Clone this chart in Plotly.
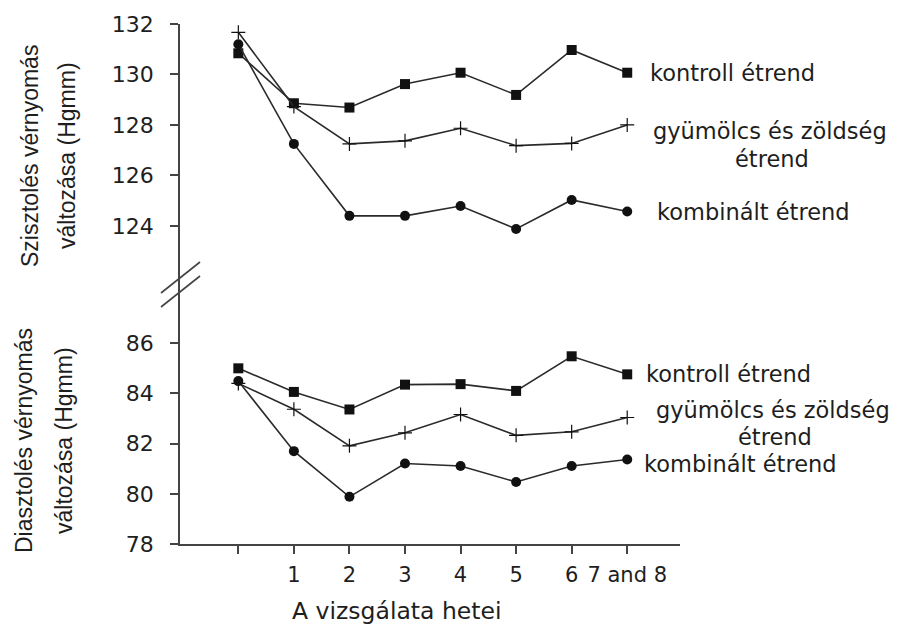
import plotly.graph_objects as go

# ---------------- data ----------------
weeks = [0, 1, 2, 3, 4, 5, 6, 7]
week_labels = ["", "1", "2", "3", "4", "5", "6", "7 and 8"]

sys_kontroll = [130.84, 128.86, 128.69, 129.62, 130.07, 129.19, 130.97, 130.07]
sys_gyumolcs = [131.67, 128.73, 127.25, 127.37, 127.87, 127.18, 127.27, 128.00]
sys_kombinalt = [131.20, 127.25, 124.40, 124.40, 124.79, 123.88, 125.03, 124.57]

dia_kontroll = [85.00, 84.06, 83.36, 84.35, 84.37, 84.10, 85.48, 84.76]
dia_gyumolcs = [84.40, 83.37, 81.91, 82.43, 83.16, 82.33, 82.47, 83.04]
dia_kombinalt = [84.49, 81.70, 79.88, 81.21, 81.11, 80.47, 81.11, 81.37]

sys_ticks = [124, 126, 128, 130, 132]
dia_ticks = [78, 80, 82, 84, 86]

# ---------------- layout helpers ----------------
W, H = 901, 624
L, R, T, B = 180, 221, 24, 80
PW, PH = W - L - R, H - T - B
FONT = "DejaVu Sans, Verdana, sans-serif"
FONT_T = "Liberation Sans, Arial, sans-serif"
LINE = "#2a2a2a"
AXC = "#444444"
TXT = "#1e1e1e"
AS = 22.5  # series label size


def px(xp):
    return (xp - L) / PW


def py(yp):
    return (H - B - yp) / PH


split = py(285)

fig = go.Figure()

series = [
    (sys_kontroll, "square", 10, "y"),
    (sys_gyumolcs, "cross-thin", 10, "y"),
    (sys_kombinalt, "circle", 10, "y"),
    (dia_kontroll, "square", 10, "y2"),
    (dia_gyumolcs, "cross-thin", 10, "y2"),
    (dia_kombinalt, "circle", 10, "y2"),
]
for vals, sym, sz, ya in series:
    fig.add_trace(go.Scatter(
        x=weeks, y=vals, xaxis="x", yaxis=ya, mode="lines+markers",
        line=dict(color=LINE, width=1.6),
        marker=dict(symbol=sym, size=sz, color="#111111",
                    line=dict(color="#111111", width=1.2 if sym == "cross-thin" else 0)),
        cliponaxis=False, showlegend=False, hoverinfo="skip",
    ))

common_y = dict(
    showline=True, linecolor=AXC, linewidth=1.6, ticks="outside", ticklen=8,
    tickwidth=1.6, tickcolor=AXC, showgrid=False, zeroline=False,
    tickfont=dict(family=FONT, size=22, color=TXT), ticklabelstandoff=12,
    anchor="x",
)

fig.update_layout(
    width=W, height=H,
    margin=dict(l=L, r=R, t=T, b=B, pad=0),
    paper_bgcolor="white", plot_bgcolor="white",
    xaxis=dict(
        domain=[0, 1], range=[-1.05, 7.95], anchor="y2",
        tickvals=weeks, ticktext=week_labels,
        showline=True, linecolor=AXC, linewidth=1.6,
        ticks="outside", ticklen=8, tickwidth=1.6, tickcolor=AXC,
        showgrid=False, zeroline=False,
        tickfont=dict(family=FONT, size=21, color=TXT), ticklabelstandoff=3,
    ),
    yaxis=dict(domain=[split, 1], range=[121.66, 132], tickvals=sys_ticks, **common_y),
    yaxis2=dict(domain=[0, split], range=[78, 88.32], tickvals=dia_ticks, **common_y),
)

# axis break marks
for (x0, y0, x1, y1) in [(161, 293, 200, 262), (161, 307, 200, 276)]:
    fig.add_shape(type="line", xref="paper", yref="paper",
                  x0=px(x0), y0=py(y0), x1=px(x1), y1=py(y1),
                  line=dict(color=AXC, width=1.6))


def label(text, xpix, ypix, xanchor="left", size=AS, angle=0, family=FONT):
    fig.add_annotation(text=text, xref="paper", yref="paper",
                       x=px(xpix), y=py(ypix), xanchor=xanchor, yanchor="middle",
                       showarrow=False, textangle=angle, align="center",
                       font=dict(family=family, size=size, color=TXT))


def series_label(text, xpix, baseline, xanchor="left"):
    # centre of the text box sits ~0.346 em above the baseline
    label(text, xpix, baseline - 0.346 * AS, xanchor)


# series labels – top panel
series_label("kontroll étrend", 648, 81)
series_label("gyümölcs és zöldség", 770, 139, "center")
series_label("étrend", 772, 166.5, "center")
series_label("kombinált étrend", 655, 220)
# series labels – bottom panel
series_label("kontroll étrend", 644, 382)
series_label("gyümölcs és zöldség", 773, 418, "center")
series_label("étrend", 775, 444.5, "center")
series_label("kombinált étrend", 642, 471.5)

# axis titles
label("Szisztolés vérnyomás", 30, 156, "center", 23, -90, FONT_T)
label("változása (Hgmm)", 67, 156, "center", 23, -90, FONT_T)
label("Diasztolés vérnyomás", 24, 441, "center", 23, -90, FONT_T)
label("változása (Hgmm)", 64, 441, "center", 23, -90, FONT_T)
label("A vizsgálata hetei", 396, 611, "center", 23.5)

fig.write_html("out.html")
